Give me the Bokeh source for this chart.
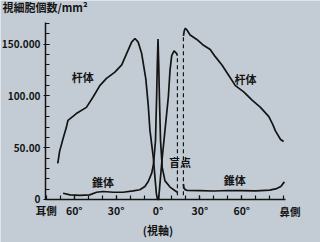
from bokeh.plotting import figure
from bokeh.models import FixedTicker, Label
from bokeh.embed import file_html
from bokeh.resources import INLINE

# ---- data ----
# rods (杆体), temporal side through fovea up to blind spot
rod_left_x = [-71.8, -70.5, -68, -65.8, -64.5, -58.5, -51.3, -46.5, -41.7, -36.9, -30.9, -26, -22.5,
              -18.9, -16.5, -14.2, -11.7, -8.7, -7, -5.8, -3.4, -2.2, -1.2, -0.4,
              0.4, 1.0, 2.6, 5, 7.4, 8.6, 9.8, 11.5, 13.4, 13.9]
rod_left_y = [35, 46.5, 59, 69, 76.5, 83, 89, 99, 110, 117, 123, 130, 141,
              152, 155.5, 152, 141, 116, 91, 67, 41, 21.6, 6, 0,
              0, 9, 34.5, 67, 99, 125, 139, 143.6, 141, 139]
# rods, nasal side after blind spot
rod_right_x = [18.2, 18.8, 19.6, 20.6, 23, 27.8, 32.6, 37.4, 41, 45.8, 50.6, 55.4, 61.4, 67.4,
               73.4, 79.4, 82, 84.2, 87.8, 90]
rod_right_y = [158, 163, 165.5, 164, 159, 154.6, 149, 145, 138, 130, 120, 110, 104, 96,
               89, 80, 73, 66, 58, 56]
# cones (錐体)
cone_left_x = [-68, -63, -56, -49, -44, -39.4, -32, -25, -17.8, -13, -9.4, -7, -4.5, -3.2, -1.8,
               -1.0, -0.5, 0, 0.5, 1.0, 1.8, 3, 5, 8.6, 12, 13.9]
cone_left_y = [6, 4.5, 4, 4.5, 7, 7.7, 7, 7, 8.4, 9.4, 12.6, 17.4, 25.5, 34.5, 57,
               99, 131, 155, 131, 99, 57, 31, 18, 12, 8.7, 7]
cone_right_x = [18.2, 18.6, 19.5, 21, 30, 40, 50, 60, 70, 80, 85, 88, 90.5]
cone_right_y = [15, 11, 9.5, 8.7, 8.5, 8.2, 8.7, 8.5, 8.3, 9, 10.5, 12.6, 17]
# blind spot (盲点) borders
blind_x = [13.9, 18.2]
blind_top = [139, 158]
blind_bottom = [4, 4]

y_ticks = [0, 50, 100, 150]
y_tick_labels = ["0", "50.00", "100.00", "150.000"]
x_ticks = [-80, -60, -30, 0, 30, 60]
x_tick_labels = ["耳側", "60°", "30°", "0°", "30°", "60°"]

FONT = "Noto Sans CJK JP"
BG = "#c3ccd4"
INK = "#141414"

X0, X1 = -80.6, 91.5   # extent of the drawn x axis
Y0, Y1 = 0, 171        # extent of the drawn y axis

# the frame fills the canvas; the axes are pinned at the data origin corner
p = figure(width=320, height=242, x_range=(-112.84, 116.4), y_range=(-41.56, 192.26),
           output_backend="svg", toolbar_location=None,
           min_border_left=0, min_border_right=0, min_border_top=0, min_border_bottom=0)
p.background_fill_color = BG
p.border_fill_color = BG
p.outline_line_color = None
p.grid.visible = False

# curves
lw = 1.7
p.line(rod_left_x, rod_left_y, line_color=INK, line_width=lw)
p.line(rod_right_x, rod_right_y, line_color=INK, line_width=lw)
p.line(cone_left_x, cone_left_y, line_color=INK, line_width=lw)
p.line(cone_right_x, cone_right_y, line_color=INK, line_width=lw)
p.segment(x0=blind_x, y0=blind_bottom, x1=blind_x, y1=blind_top,
          line_color=INK, line_width=1.2, line_dash="4 3")

# axes
for ax in (p.xaxis[0], p.yaxis[0]):
    ax.axis_line_color = INK
    ax.axis_line_width = 1.5
    ax.major_tick_line_color = INK
    ax.minor_tick_line_color = INK
    ax.major_tick_line_width = 1.2
    ax.minor_tick_line_width = 1.2
    ax.major_tick_out = 0
    ax.minor_tick_out = 0
    ax.major_tick_in = 4
    ax.minor_tick_in = 4
    ax.major_label_text_font = FONT
    ax.major_label_text_font_style = "bold"
    ax.major_label_text_color = INK

p.yaxis[0].ticker = FixedTicker(ticks=y_ticks, minor_ticks=list(range(0, 171, 10)))
p.yaxis[0].major_label_overrides = {t: l for t, l in zip(y_ticks, y_tick_labels)}
p.yaxis[0].major_label_text_font_size = "10px"
p.yaxis[0].major_label_standoff = 3
p.yaxis[0].major_tick_out = 2
p.yaxis[0].fixed_location = X0
p.yaxis[0].bounds = (Y0, Y1)

p.xaxis[0].ticker = FixedTicker(ticks=x_ticks, minor_ticks=list(range(-70, 91, 10)))
p.xaxis[0].major_label_overrides = {t: l for t, l in zip(x_ticks, x_tick_labels)}
p.xaxis[0].major_label_text_font_size = "10.5px"
p.xaxis[0].major_label_standoff = 4
p.xaxis[0].fixed_location = Y0
p.xaxis[0].bounds = (X0, X1)


def lab(x, y, text, align="center", size="11px"):
    p.add_layout(Label(x=x, y=y, text=text, text_font=FONT, text_font_size=size,
                       text_font_style="bold", text_color=INK,
                       text_align=align, text_baseline="middle"))


lab(-54, 118, "杆体")
lab(62.6, 116, "杆体")
lab(-39.5, 16.5, "錐体")
lab(55, 18.4, "錐体")
lab(15.8, 36, "盲点")
lab(94.6, -12, "鼻側", size="10.5px")
lab(0, -29, "(視軸)")
lab(-111.4, 185.5, "視細胞個数/mm²", align="left")

open("out.html", "w").write(file_html(p, INLINE))
